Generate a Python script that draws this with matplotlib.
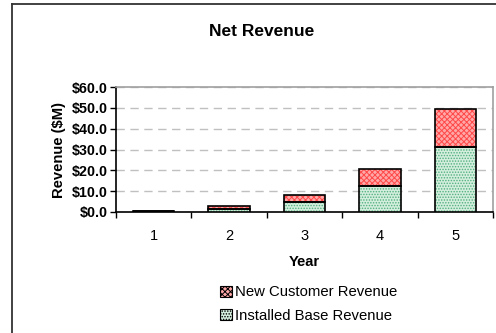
import matplotlib
matplotlib.use("Agg")
import matplotlib.pyplot as plt
from matplotlib.patches import Patch
from matplotlib.lines import Line2D
import numpy as np

years = ["1", "2", "3", "4", "5"]
installed_base = [0.3, 1.3, 4.8, 12.5, 31.0]
new_customer = [0.4, 1.4, 3.5, 8.1, 18.4]
yticks = [0, 10, 20, 30, 40, 50, 60]
ytick_labels = ["$0.0", "$10.0", "$20.0", "$30.0", "$40.0", "$50.0", "$60.0"]

plt.rcParams['font.family'] = ['Liberation Sans', 'DejaVu Sans']
plt.rcParams['hatch.linewidth'] = 0.7

W, H = 496, 333
fig = plt.figure(figsize=(W / 100, H / 100), dpi=100)
ax = fig.add_axes([116 / W, 1 - 212 / H, (493 - 116) / W, (212 - 87) / H])

x = np.arange(len(years))
bw = 0.55
green_face = "#d4eedd"
green_hatch = "#50b080"
red_face = "#ffa8a8"
red_hatch = "#ff4848"

ax.bar(x, installed_base, bw, color=green_face, edgecolor=green_hatch, hatch="......", linewidth=0, zorder=3)
ax.bar(x, new_customer, bw, bottom=installed_base, color=red_face, edgecolor=red_hatch, hatch="xxxxxx", linewidth=0, zorder=3)
ax.bar(x, installed_base, bw, fill=False, edgecolor="black", linewidth=1.2, zorder=4)
ax.bar(x, new_customer, bw, bottom=installed_base, fill=False, edgecolor="black", linewidth=1.2, zorder=4)

ax.set_xlim(-0.5, len(years) - 0.5)
ax.set_ylim(0, 60)
ax.set_yticks(yticks)
ax.set_yticklabels(ytick_labels, fontsize=10.3, fontweight="bold")
ax.tick_params(axis="y", length=4, width=1, pad=2)
ax.set_xticks(x)
ax.set_xticklabels(years, fontsize=10.5)
ax.tick_params(axis="x", length=0, pad=12)
ax.set_xticks(np.arange(-0.5, len(years)), minor=True)
ax.tick_params(axis="x", which="minor", length=4, width=1, direction="out")

ax.grid(axis="y", color="#c0c0c0", linestyle=(0, (6, 4)), linewidth=1, zorder=0)
for s in ["top", "right"]:
    ax.spines[s].set_color("#a0a0a0")
    ax.spines[s].set_linewidth(1.2)
for s in ["left", "bottom"]:
    ax.spines[s].set_color("black")
    ax.spines[s].set_linewidth(1.2)

ax.set_ylabel("Revenue ($M)", fontsize=10.6, fontweight="bold", labelpad=4)
ax.set_xlabel("Year", fontsize=10.6, fontweight="bold", labelpad=9)

fig.text(262 / W, 1 - 32 / H, "Net Revenue", ha="center", va="center", fontsize=12.5, fontweight="bold")

handles = [
    Patch(facecolor=red_face, edgecolor=red_hatch, hatch="xxxxxx", linewidth=0),
    Patch(facecolor=green_face, edgecolor=green_hatch, hatch="......", linewidth=0),
]
leg = fig.legend(handles, ["New Customer Revenue", "Installed Base Revenue"],
                 loc="upper left", bbox_to_anchor=(213 / W, 1 - 278 / H),
                 frameon=False, fontsize=10.7, handlelength=0.75, handleheight=0.75,
                 handletextpad=0.2, labelspacing=0.65, borderpad=0)
for p in leg.get_patches():
    p.set_edgecolor("black")
    p.set_linewidth(0.8)

fig.add_artist(Line2D([12 / W, 12 / W], [0, 1 - 4 / H], color="#333333", linewidth=1.3))
fig.add_artist(Line2D([12 / W, 1], [1 - 4 / H, 1 - 4 / H], color="#333333", linewidth=1.3))

fig.savefig("out.png", dpi=100)
